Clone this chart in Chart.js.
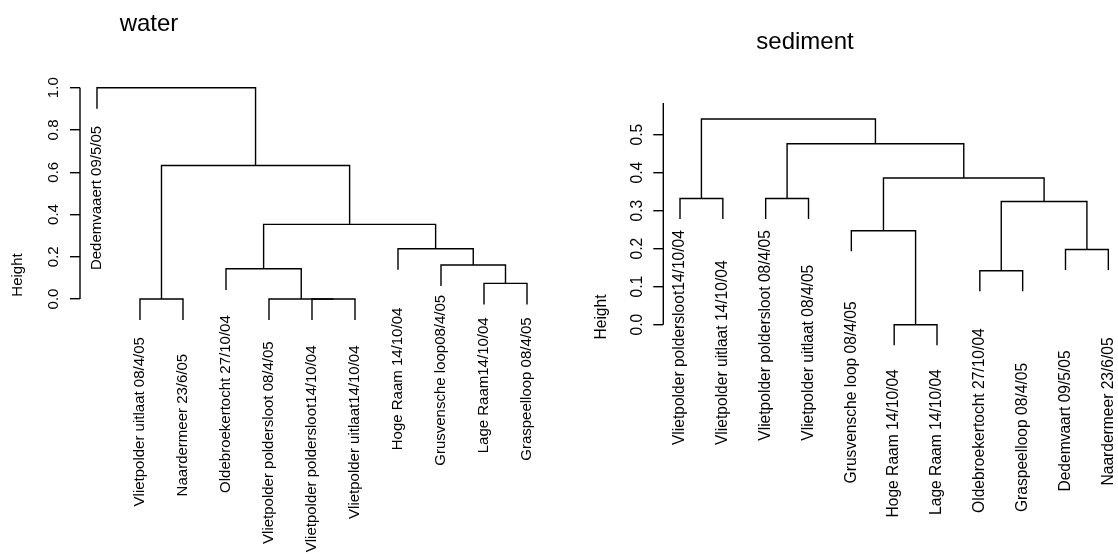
<!DOCTYPE html>
<html>
<head>
<meta charset="utf-8">
<script src="https://cdn.jsdelivr.net/npm/chart.js@4/dist/chart.umd.min.js"></script>
<style>
  html, body { margin: 0; padding: 0; background: #fff; }
  #wrap { display: flex; width: 1118px; height: 554px; }
  canvas { display: block; }
</style>
</head>
<body>
<div id="wrap">
  <canvas id="water" width="559" height="554"></canvas>
  <canvas id="sediment" width="559" height="554"></canvas>
</div>
<script>
// leaves in plotted order (trailing blanks are in the original labels)
const waterLabels = [
  'Dedemvaaert 09/5/05  ',
  'Vlietpolder uitlaat 08/4/05  ',
  'Naardermeer 23/6/05      ',
  'Oldebroekertocht 27/10/04    ',
  'Vlietpolder poldersloot 08/4/05   ',
  'Vlietpolder poldersloot14/10/04    ',
  'Vlietpolder uitlaat14/10/04    ',
  'Hoge Raam 14/10/04       ',
  'Grusvensche loop08/4/05',
  'Lage Raam14/10/04 ',
  'Graspeelloop 08/4/05 '
];
// hclust style: negative = leaf (1-based, plotted order), positive = earlier merge row
const waterMerge = [[-2, -3], [-6, -7], [-5, 2], [-10, -11], [-4, 3], [-9, 4], [-8, 6], [5, 7], [1, 8], [-1, 9]];
const waterHeights = [0, 0, 0, 0.074, 0.143, 0.161, 0.238, 0.353, 0.632, 1.0];
const waterTicks = [0, 0.2, 0.4, 0.6, 0.8, 1.0];

const sedimentLabels = [
  'Vlietpolder poldersloot14/10/04',
  'Vlietpolder uitlaat 14/10/04       ',
  'Vlietpolder poldersloot 08/4/05',
  'Vlietpolder uitlaat 08/4/05        ',
  'Grusvensche loop 08/4/05         ',
  'Hoge Raam 14/10/04   ',
  'Lage Raam 14/10/04   ',
  'Oldebroekertocht 27/10/04      ',
  'Graspeelloop 08/4/05              ',
  'Dedemvaart 09/5/05                ',
  'Naardermeer 23/6/05             '
];
const sedimentMerge = [[-6, -7], [-8, -9], [-10, -11], [-5, 1], [2, 3], [-1, -2], [-3, -4], [4, 5], [7, 8], [6, 9]];
const sedimentHeights = [0, 0.142, 0.198, 0.247, 0.324, 0.332, 0.332, 0.386, 0.476, 0.541];
const sedimentTicks = [0, 0.1, 0.2, 0.3, 0.4, 0.5];

const FONT = '"Liberation Sans", Arial, Helvetica, sans-serif';
const LINE_W = 1.4;

// turn the merge table into one U-shaped line per merge
function buildTree(merge, heights) {
  const hang = 0.1 * Math.max(...heights);
  const nodeX = [];
  const leafEnd = [];
  const sets = merge.map(([a, b], k) => {
    const h = heights[k];
    const ends = [a, b].map(id => {
      if (id < 0) {
        leafEnd[-id - 1] = h - hang;
        return { x: -id - 1, y: h - hang };
      }
      return { x: nodeX[id - 1], y: heights[id - 1] };
    });
    nodeX[k] = (ends[0].x + ends[1].x) / 2;
    return {
      data: [ends[0], { x: ends[0].x, y: h }, { x: ends[1].x, y: h }, ends[1]],
      showLine: true,
      borderColor: '#000',
      borderWidth: LINE_W,
      pointRadius: 0,
      tension: 0,
      clip: false
    };
  });
  return { sets, leafEnd };
}

const dendroDeco = {
  id: 'dendroDeco',
  afterDraw(chart, args, o) {
    const { ctx, chartArea } = chart;
    const x = chart.scales.x, y = chart.scales.y;
    ctx.save();
    ctx.strokeStyle = '#000';
    ctx.fillStyle = '#000';
    ctx.lineWidth = LINE_W;
    ctx.beginPath();
    ctx.moveTo(chartArea.left, y.getPixelForValue(0));
    ctx.lineTo(chartArea.left, y.getPixelForValue(y.max));
    ctx.stroke();

    ctx.font = o.fontSize + 'px ' + FONT;
    ctx.textBaseline = 'middle';
    const up = (txt, px, py, align) => {
      ctx.save();
      ctx.translate(px, py);
      ctx.rotate(-Math.PI / 2);
      ctx.textAlign = align;
      ctx.fillText(txt, 0, 0);
      ctx.restore();
    };
    y.ticks.forEach(t => up(t.value.toFixed(1), chartArea.left - 26, y.getPixelForValue(t.value), 'center'));
    up('Height', chartArea.left - 62, o.ylabY, 'center');
    o.labels.forEach((lab, i) => {
      up(lab, x.getPixelForValue(i), y.getPixelForValue(o.leafEnd[i]) + o.gap, 'right');
    });

    ctx.font = o.titleSize + 'px ' + FONT;
    ctx.textAlign = 'center';
    ctx.textBaseline = 'alphabetic';
    ctx.fillText(o.title, o.titleX, o.titleY);
    ctx.restore();
  }
};

function makeDendro(id, cfg) {
  const tree = buildTree(cfg.merge, cfg.heights);
  return new Chart(document.getElementById(id), {
    type: 'scatter',
    data: { datasets: tree.sets },
    plugins: [dendroDeco],
    options: {
      responsive: false,
      animation: false,
      devicePixelRatio: 1,
      layout: { autoPadding: false, padding: cfg.padding },
      scales: {
        x: { type: 'linear', min: cfg.xMin, max: cfg.xMax, display: false },
        y: {
          type: 'linear',
          min: cfg.yMin,
          max: cfg.yMax,
          afterBuildTicks: s => { s.ticks = cfg.ticks.map(v => ({ value: v })); },
          afterFit: s => { s.width = cfg.axisX; },
          ticks: { display: false },
          grid: { drawOnChartArea: false, drawTicks: true, tickLength: 10, color: '#000', lineWidth: LINE_W },
          border: { display: false }
        }
      },
      plugins: {
        legend: { display: false },
        tooltip: { enabled: false },
        dendroDeco: {
          labels: cfg.labels,
          leafEnd: tree.leafEnd,
          fontSize: cfg.fontSize,
          gap: cfg.gap,
          ylabY: cfg.ylabY,
          title: cfg.title,
          titleSize: 24,
          titleX: cfg.titleX,
          titleY: cfg.titleY
        }
      }
    }
  });
}

makeDendro('water', {
  merge: waterMerge, heights: waterHeights, labels: waterLabels, ticks: waterTicks,
  xMin: -0.395, xMax: 10.4, yMin: -0.1, yMax: 1.0, axisX: 80,
  padding: { left: 0, right: 14.8, top: 87.7, bottom: 233.9 },
  fontSize: 15, gap: 8.7, ylabY: 275,
  title: 'water', titleX: 149, titleY: 30.5
});

makeDendro('sediment', {
  merge: sedimentMerge, heights: sedimentHeights, labels: sedimentLabels, ticks: sedimentTicks,
  xMin: -0.39, xMax: 10.2, yMin: -0.055, yMax: 0.583, axisX: 104.3,
  padding: { left: 0, right: 1.1, top: 103.1, bottom: 208.4 },
  fontSize: 15.6, gap: 11, ylabY: 317,
  title: 'sediment', titleX: 246, titleY: 48.5
});
</script>
</body>
</html>
